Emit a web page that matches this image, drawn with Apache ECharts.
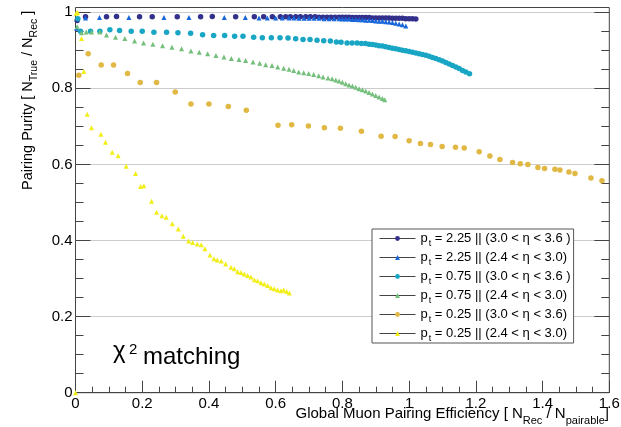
<!DOCTYPE html>
<html><head><meta charset="utf-8">
<script src="https://cdn.jsdelivr.net/npm/echarts@6/dist/echarts.min.js"></script>
<style>html,body{margin:0;padding:0;background:#fff}#c{width:621px;height:427px}</style>
</head><body><div id="c"></div>
<script>
const FONT = "'Liberation Sans', Arial, Helvetica, sans-serif";

// ---- data (x = efficiency, y = purity) ----
const ptHighFwd = [[0.005,0.978],[0.03,0.988],[0.093,0.988],[0.123,0.989],[0.192,0.988],[0.23,0.988],[0.305,0.988],[0.375,0.988],[0.41,0.989],[0.48,0.988],[0.536,0.988],[0.564,0.988],[0.59,0.988],[0.614,0.988],[0.63,0.988],[0.644,0.988],[0.66,0.988],[0.674,0.988],[0.69,0.988],[0.704,0.988],[0.718,0.988],[0.73,0.987],[0.742,0.987],[0.754,0.987],[0.766,0.987],[0.778,0.987],[0.79,0.987],[0.80,0.987],[0.81,0.987],[0.82,0.987],[0.83,0.986],[0.84,0.986],[0.85,0.986],[0.86,0.986],[0.87,0.986],[0.88,0.986],[0.89,0.985],[0.90,0.985],[0.91,0.985],[0.92,0.985],[0.93,0.985],[0.94,0.985],[0.95,0.984],[0.96,0.984],[0.97,0.984],[0.98,0.984],[0.99,0.983],[1.0,0.983],[1.01,0.983],[1.02,0.982]];
const ptHighCen = [[0.003,0.958],[0.03,0.985],[0.072,0.986],[0.16,0.986],[0.265,0.986],[0.34,0.986],[0.446,0.986],[0.509,0.986],[0.55,0.985],[0.575,0.985],[0.60,0.985],[0.62,0.985],[0.64,0.985],[0.655,0.985],[0.67,0.984],[0.685,0.984],[0.70,0.984],[0.715,0.984],[0.73,0.984],[0.745,0.983],[0.76,0.983],[0.775,0.983],[0.79,0.983],[0.80,0.982],[0.81,0.982],[0.82,0.982],[0.83,0.981],[0.84,0.981],[0.85,0.98],[0.86,0.98],[0.87,0.979],[0.88,0.979],[0.89,0.978],[0.90,0.977],[0.91,0.976],[0.92,0.976],[0.93,0.975],[0.94,0.974],[0.95,0.973],[0.96,0.971],[0.97,0.969],[0.98,0.967],[0.99,0.964]];
const ptMidFwd = [[0.007,0.983],[0.015,0.950],[0.045,0.950],[0.073,0.950],[0.103,0.954],[0.132,0.952],[0.167,0.950],[0.2,0.950],[0.235,0.947],[0.273,0.947],[0.307,0.946],[0.345,0.945],[0.381,0.941],[0.414,0.939],[0.447,0.939],[0.477,0.937],[0.502,0.937],[0.534,0.934],[0.560,0.933],[0.587,0.933],[0.613,0.933],[0.637,0.932],[0.66,0.930],[0.682,0.928],[0.703,0.928],[0.724,0.926],[0.744,0.925],[0.764,0.924],[0.782,0.922],[0.796,0.921],[0.814,0.919],[0.829,0.919],[0.844,0.919],[0.857,0.918],[0.869,0.918],[0.88,0.916],[0.89,0.915],[0.90,0.914],[0.91,0.912],[0.92,0.911],[0.93,0.909],[0.94,0.907],[0.95,0.905],[0.96,0.904],[0.97,0.902],[0.98,0.900],[0.99,0.899],[1.0,0.897],[1.01,0.895],[1.02,0.893],[1.03,0.891],[1.04,0.889],[1.05,0.887],[1.06,0.884],[1.07,0.881],[1.08,0.878],[1.09,0.875],[1.10,0.872],[1.11,0.868],[1.12,0.864],[1.13,0.860],[1.14,0.856],[1.15,0.852],[1.16,0.847],[1.17,0.843],[1.181,0.838]];
const ptMidCen = [[0.005,0.962],[0.018,0.946],[0.032,0.948],[0.048,0.948],[0.073,0.948],[0.093,0.940],[0.12,0.934],[0.148,0.931],[0.177,0.924],[0.204,0.919],[0.232,0.916],[0.261,0.912],[0.289,0.908],[0.318,0.904],[0.346,0.898],[0.371,0.895],[0.396,0.891],[0.421,0.886],[0.445,0.882],[0.467,0.878],[0.49,0.876],[0.51,0.873],[0.532,0.869],[0.552,0.866],[0.57,0.862],[0.589,0.860],[0.606,0.856],[0.624,0.853],[0.64,0.850],[0.654,0.847],[0.669,0.843],[0.684,0.841],[0.699,0.839],[0.714,0.836],[0.729,0.833],[0.742,0.830],[0.757,0.827],[0.769,0.825],[0.78,0.822],[0.79,0.819],[0.80,0.816],[0.81,0.812],[0.82,0.809],[0.83,0.806],[0.84,0.803],[0.85,0.799],[0.86,0.796],[0.87,0.793],[0.88,0.789],[0.89,0.785],[0.90,0.781],[0.91,0.777],[0.92,0.773],[0.927,0.770]];
const ptLowFwd = [[0.010,0.834],[0.038,0.891],[0.077,0.861],[0.114,0.861],[0.156,0.839],[0.194,0.815],[0.243,0.815],[0.299,0.790],[0.346,0.759],[0.400,0.759],[0.458,0.752],[0.512,0.742],[0.607,0.703],[0.648,0.704],[0.698,0.701],[0.746,0.696],[0.794,0.695],[0.857,0.687],[0.916,0.674],[0.958,0.673],[1.0,0.662],[1.034,0.655],[1.064,0.652],[1.099,0.647],[1.139,0.645],[1.165,0.643],[1.210,0.633],[1.242,0.622],[1.272,0.613],[1.310,0.605],[1.333,0.602],[1.356,0.600],[1.386,0.592],[1.406,0.589],[1.437,0.587],[1.452,0.585],[1.479,0.580],[1.497,0.576],[1.545,0.564],[1.578,0.557]];
const ptLowCen = [[0,0],[0.002,0.997],[0.006,0.999],[0.018,0.931],[0.025,0.844],[0.035,0.732],[0.048,0.696],[0.076,0.679],[0.09,0.658],[0.110,0.632],[0.128,0.623],[0.152,0.595],[0.18,0.576],[0.195,0.542],[0.205,0.544],[0.228,0.503],[0.243,0.474],[0.259,0.465],[0.272,0.461],[0.29,0.444],[0.308,0.430],[0.323,0.411],[0.339,0.399],[0.351,0.395],[0.365,0.391],[0.377,0.389],[0.388,0.378],[0.403,0.362],[0.415,0.352],[0.425,0.349],[0.437,0.346],[0.45,0.338],[0.466,0.330],[0.476,0.326],[0.486,0.318],[0.496,0.316],[0.506,0.312],[0.516,0.308],[0.526,0.304],[0.536,0.297],[0.546,0.294],[0.556,0.289],[0.566,0.286],[0.576,0.282],[0.586,0.276],[0.596,0.273],[0.606,0.270],[0.616,0.268],[0.624,0.270],[0.633,0.266],[0.641,0.262]];

const seriesData = [ptHighFwd, ptHighCen, ptMidFwd, ptMidCen, ptLowFwd, ptLowCen];
const seriesNames = ['s1','s2','s3','s4','s5','s6'];
const ptLabels = ['2.25','2.25','0.75','0.75','0.25','0.25'];
const etaLabels = ['(3.0 < η < 3.6 )','(2.4 < η < 3.0)','(3.0 < η < 3.6 )','(2.4 < η < 3.0)','(3.0 < η < 3.6)','(2.4 < η < 3.0)'];
const colors = ['#33308c','#1766da','#18a6c4','#74bf7c','#e0b843','#f2ee1a'];
const symbols = ['circle','triangle','circle','triangle','circle','triangle'];
const symbolSizes = [5.5,5,5.5,5,5.5,5];

const xTicks = {min:0, max:1.6, interval:0.2};
const yTicks = {min:0, max:1, interval:0.2};

const chart = echarts.init(document.getElementById('c'), null, {renderer:'canvas'});

const tickStyle = {color:'#444', width:1};
const option = {
  animation:false,
  backgroundColor:'#fff',
  grid:[
    {left:75.5, right:11.7, top:7.5, bottom:34.3, show:true, borderColor:'#444', borderWidth:1, backgroundColor:'transparent', containLabel:false, outerBoundsMode:'none'},
    {left:75.5, right:11.7, top:12.2, bottom:34.3, show:false, containLabel:false, outerBoundsMode:'none'}
  ],
  xAxis:[
    {gridIndex:0, type:'value', min:xTicks.min, max:xTicks.max, interval:xTicks.interval,
     axisLine:{show:true, onZero:false, lineStyle:{color:'#444', width:1}},
     axisTick:{show:true, inside:true, length:12, lineStyle:tickStyle},
     minorTick:{show:true, splitNumber:4, length:6, lineStyle:tickStyle},
     splitLine:{show:false},
     axisLabel:{show:true, color:'#000', fontSize:15, fontFamily:FONT, margin:4}},
    {gridIndex:1, type:'value', min:xTicks.min, max:xTicks.max, show:false}
  ],
  yAxis:[
    {gridIndex:0, type:'value', min:0, max:1.012, show:false, splitLine:{show:false}},
    {gridIndex:1, type:'value', position:'left', min:yTicks.min, max:yTicks.max, interval:yTicks.interval,
     axisLine:{show:false},
     axisTick:{show:true, inside:true, length:15, lineStyle:tickStyle},
     minorTick:{show:true, splitNumber:4, length:8, lineStyle:tickStyle},
     splitLine:{show:true, lineStyle:{color:'#999', width:1, type:[1,1]}},
     axisLabel:{show:true, color:'#000', fontSize:15, fontFamily:FONT, margin:3}},
    {gridIndex:1, type:'value', position:'right', min:yTicks.min, max:yTicks.max, interval:yTicks.interval,
     axisLine:{show:false},
     axisTick:{show:true, inside:true, length:15, lineStyle:tickStyle},
     minorTick:{show:true, splitNumber:4, length:8, lineStyle:tickStyle},
     splitLine:{show:false},
     axisLabel:{show:false}}
  ],
  legend:{
    show:true, orient:'vertical', left:372, top:229, padding:[0,3,0,7], itemGap:0,
    itemWidth:36, itemHeight:6, backgroundColor:'#fff', borderColor:'#555', borderWidth:1, borderRadius:0,
    selectedMode:false,
    lineStyle:{color:'#444', width:1, opacity:1, type:'solid'},
    textStyle:{fontFamily:FONT, fontSize:13, color:'#000', lineHeight:17,
      rich:{
        p:{fontFamily:FONT, fontSize:13, color:'#000', lineHeight:17},
        s:{fontFamily:FONT, fontSize:9, color:'#000', lineHeight:17, padding:[10,0,0,1]}
      }},
    formatter:function(name){
      const i = seriesNames.indexOf(name);
      return '{p|p}{s|t}{p| = ' + ptLabels[i] + ' || ' + etaLabels[i] + '}';
    },
    data:seriesNames
  },
  graphic:[
    {type:'text', x:28, y:190, rotation:Math.PI/2, silent:true,
     style:{text:'{a|Pairing Purity [ N}{s|True}{a| / N}{s|Rec}{a| ]}', align:'left', verticalAlign:'middle', fill:'#000', fontFamily:FONT, fontSize:14.5,
       rich:{a:{fontFamily:FONT, fontSize:14.5, fill:'#000'}, s:{fontFamily:FONT, fontSize:10.5, fill:'#000', padding:[12,0,0,0]}}}},
    {type:'text', x:609, y:414, silent:true,
     style:{text:'{a|Global Muon Pairing Efficiency [ N}{s|Rec}{a| / N}{s|pairable}{a|]}', align:'right', verticalAlign:'middle', fill:'#000', fontFamily:FONT, fontSize:15,
       rich:{a:{fontFamily:FONT, fontSize:15, fill:'#000'}, s:{fontFamily:FONT, fontSize:11, fill:'#000', padding:[14,0,0,0]}}}},
    {type:'text', x:113, y:351, silent:true, style:{text:'χ', fontFamily:FONT, fontSize:24, fill:'#000', align:'left', verticalAlign:'middle'}},
    {type:'text', x:129, y:350, silent:true, style:{text:'2', fontFamily:FONT, fontSize:15, fill:'#000', align:'left', verticalAlign:'middle'}},
    {type:'text', x:143, y:357.6, silent:true, style:{text:'matching', fontFamily:FONT, fontSize:24, fill:'#000', align:'left', verticalAlign:'middle'}}
  ],
  series: seriesData.map(function(d, i){
    return {
      type:'line', name:seriesNames[i], xAxisIndex:1, yAxisIndex:1, data:d,
      symbol:symbols[i], symbolSize:symbolSizes[i], showSymbol:true, showAllSymbol:true,
      itemStyle:{color:colors[i], borderWidth:0},
      lineStyle:{opacity:0, width:1},
      clip:false, silent:true, animation:false,
      emphasis:{disabled:true}, z:2
    };
  })
};
chart.setOption(option);
</script></body></html>
